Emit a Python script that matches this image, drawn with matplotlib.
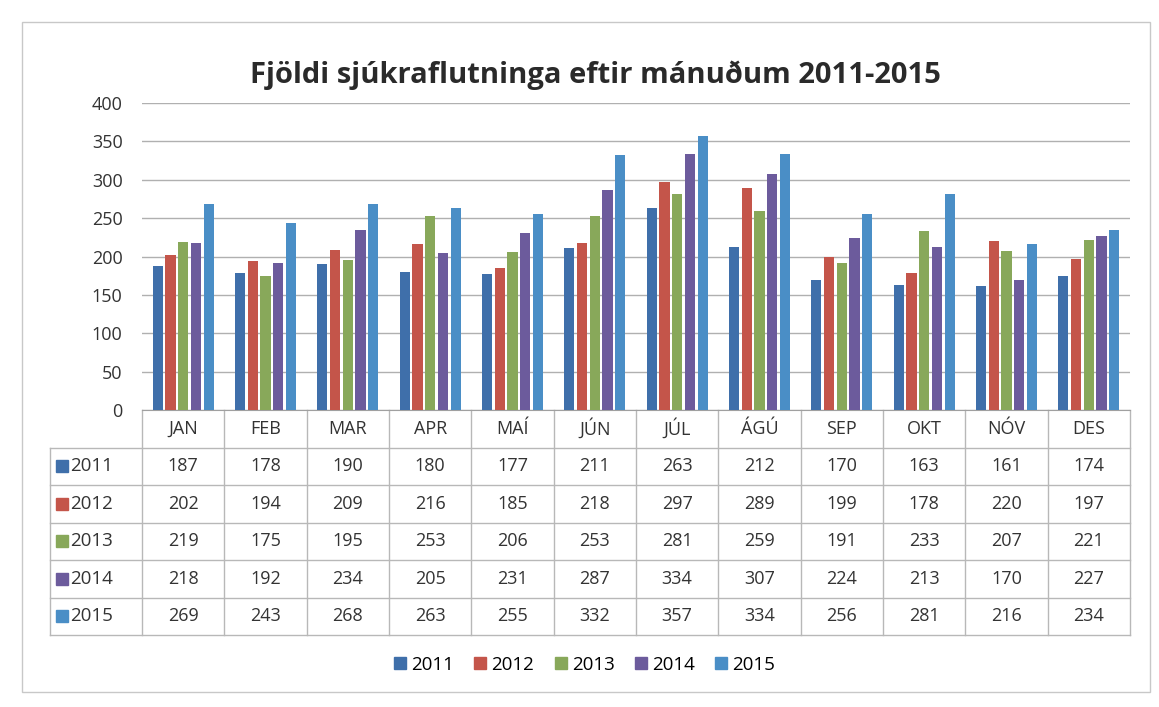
import matplotlib
matplotlib.use("Agg")
import matplotlib.pyplot as plt
import matplotlib.transforms as mtransforms
from matplotlib.lines import Line2D
import numpy as np

months = ["JAN", "FEB", "MAR", "APR", "MAÍ", "JÚN", "JÚL", "ÁGÚ", "SEP", "OKT", "NÓV", "DES"]
years = ["2011", "2012", "2013", "2014", "2015"]
v2011 = [187, 178, 190, 180, 177, 211, 263, 212, 170, 163, 161, 174]
v2012 = [202, 194, 209, 216, 185, 218, 297, 289, 199, 178, 220, 197]
v2013 = [219, 175, 195, 253, 206, 253, 281, 259, 191, 233, 207, 221]
v2014 = [218, 192, 234, 205, 231, 287, 334, 307, 224, 213, 170, 227]
v2015 = [269, 243, 268, 263, 255, 332, 357, 334, 256, 281, 216, 234]
series = [v2011, v2012, v2013, v2014, v2015]
colors = ["#3F6FAA", "#C4554A", "#88A85A", "#6C5B9C", "#4A8EC6"]

plt.rcParams['font.family'] = ['Open Sans', 'DejaVu Sans']

W, H = 1159, 707
fig = plt.figure(figsize=(W / 100, H / 100), dpi=100)
fig.patch.set_facecolor("white")

left_px, right_px, top_px, bot_px = 142, 1130, 103, 410
ax = fig.add_axes([left_px / W, 1 - bot_px / H, (right_px - left_px) / W, (bot_px - top_px) / H])

x = np.arange(len(months))
bw = 0.155
for i, (vals, c) in enumerate(zip(series, colors)):
    ax.bar(x + (i - 2) * bw, vals, width=bw * 0.8, color=c, zorder=3)

ax.set_xlim(-0.5, len(months) - 0.5)
ax.set_ylim(0, 400)
ax.set_yticks(range(0, 401, 50))
ax.tick_params(axis='y', length=0, labelsize=13, pad=14, colors="#333333")
ax.set_xticks([])
ax.grid(axis='y', color="#B0B0B0", linewidth=1.0, zorder=0)
for s in ["top", "right", "left"]:
    ax.spines[s].set_visible(False)
ax.spines["bottom"].set_color("#A0A0A0")

# Data table below the axes
trans = mtransforms.blended_transform_factory(ax.transData, ax.transAxes)
axh = bot_px - top_px
rh = 37.5 / axh
nrows = len(years)
label_left = -0.5 - 92 / ((right_px - left_px) / len(months))
lc = "#B8B8B8"
tc = "#333333"
for b in np.arange(-0.5, len(months) + 0.5, 1.0):
    ax.plot([b, b], [0, -(nrows + 1) * rh], transform=trans, color=lc, lw=1, clip_on=False)
ax.plot([label_left, label_left], [-rh, -(nrows + 1) * rh], transform=trans, color=lc, lw=1, clip_on=False)
for r in range(1, nrows + 2):
    ax.plot([label_left, len(months) - 0.5], [-r * rh, -r * rh], transform=trans, color=lc, lw=1, clip_on=False)
for j, m in enumerate(months):
    ax.text(j, -0.5 * rh, m, transform=trans, ha='center', va='center', fontsize=13, color=tc)
for r, (yr, vals, c) in enumerate(zip(years, series, colors)):
    yc = -(r + 1.5) * rh
    ax.plot([label_left + 0.15], [yc], transform=trans, marker='s', markersize=8, color=c, clip_on=False,
            linestyle='none')
    ax.text(label_left + 0.25, yc, yr, transform=trans, ha='left', va='center', fontsize=13.5, color=tc)
    for j, v in enumerate(vals):
        ax.text(j, yc, str(v), transform=trans, ha='center', va='center', fontsize=13, color=tc)

fig.text(595 / W, 1 - 75 / H, "Fjöldi sjúkraflutninga eftir mánuðum 2011-2015",
         ha='center', va='center', fontsize=21, fontweight='bold', color="#2A2A2A")

handles = [Line2D([0], [0], marker='s', color='none', markerfacecolor=c, markeredgecolor=c, markersize=9)
           for c in colors]
fig.legend(handles, years, loc='center', bbox_to_anchor=(583 / W, 1 - 665 / H), ncol=5, frameon=False,
           fontsize=13.5, handletextpad=0.1, columnspacing=0.9, handlelength=1.0)

fig.add_artist(plt.Rectangle((22 / W, 1 - 692 / H), (1150 - 22) / W, (692 - 22) / H, transform=fig.transFigure,
                             fill=False, edgecolor="#C8C8C8", lw=1))

fig.savefig("out.png", dpi=100, facecolor="white")
